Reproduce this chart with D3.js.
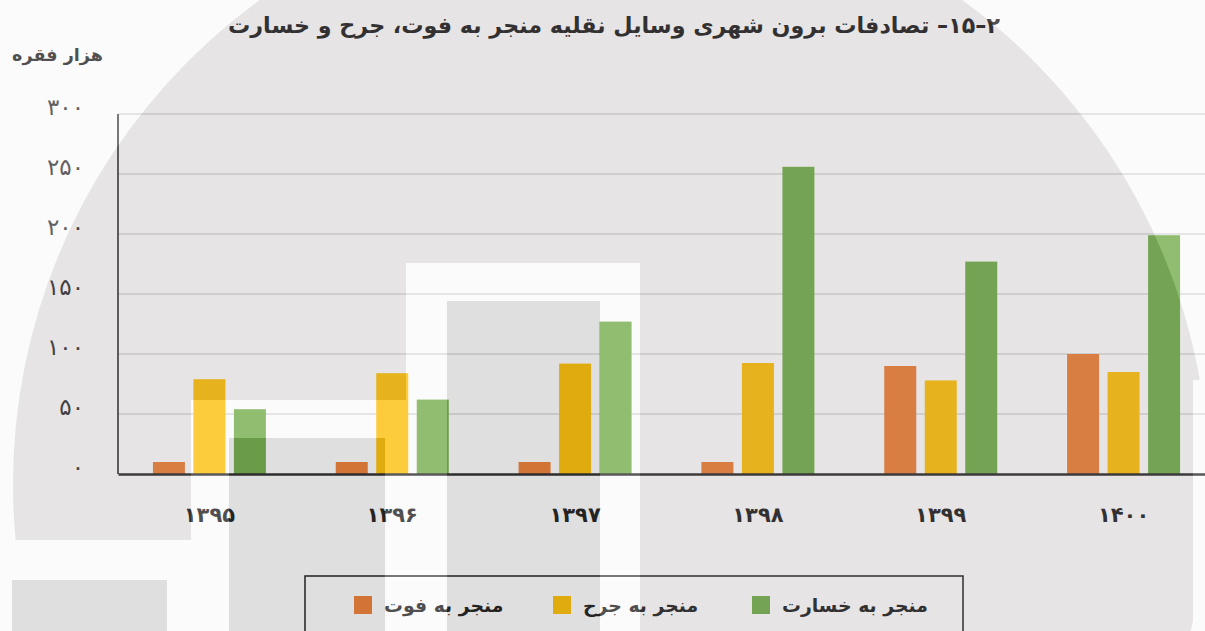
<!DOCTYPE html>
<html>
<head>
<meta charset="utf-8">
<script src="https://cdn.jsdelivr.net/npm/d3@7"></script>
<style>
  html, body { margin: 0; padding: 0; background: #ffffff; }
  svg { display: block; }
  text { font-family: "DejaVu Sans", "Noto Sans", sans-serif; }
</style>
</head>
<body>
<svg id="chart" width="1205" height="631"></svg>
<script>
// Years (Solar Hijri) shown on the category axis
const years = ["۱۳۹۵", "۱۳۹۶", "۱۳۹۷", "۱۳۹۸", "۱۳۹۹", "۱۴۰۰"];
// Series labels, in drawing order inside each group
const seriesNames = ["منجر به فوت", "منجر به جرح", "منجر به خسارت"];
// Values in thousand cases
const fatal = [10, 10, 10, 10, 90, 100];
const injury = [79, 84, 92, 92.5, 78, 85];
const damage = [54, 62, 127, 256, 177, 199];
// Value-axis ticks and their Persian labels
const yTicks = [0, 50, 100, 150, 200, 250, 300];
const yTickLabels = ["۰", "۵۰", "۱۰۰", "۱۵۰", "۲۰۰", "۲۵۰", "۳۰۰"];

const titleText = "۲–۱۵– تصادفات برون شهری وسایل نقلیه منجر به فوت، جرح و خسارت";
const unitText = "هزار فقره";

const seriesValues = [fatal, injury, damage];
const colors = ["#ED7D31", "#FFC000", "#70AD47"];

const W = 1205, H = 631;
const plot = { left: 118, right: 1215, top: 114, bottom: 474 };

const svg = d3.select("#chart");

const x = d3.scaleBand()
  .domain(years)
  .range([plot.left, plot.right])
  .paddingInner(0.382)
  .paddingOuter(0.191);

const xs = d3.scaleBand()
  .domain(seriesNames)
  .range([0, x.bandwidth()])
  .paddingInner(0.21)
  .paddingOuter(0);

const y = d3.scaleLinear().domain([0, 300]).range([plot.bottom, plot.top]);

// Horizontal gridlines
const grid = svg.append("g").attr("class", "grid");
grid.selectAll("line")
  .data(yTicks.filter(d => d > 0))
  .join("line")
  .attr("x1", plot.left).attr("x2", plot.right)
  .attr("y1", d => y(d)).attr("y2", d => y(d))
  .attr("stroke", "#D9D9D9").attr("stroke-width", 1.6);

// Bars
const table = years.map((yr, i) => ({ year: yr, values: seriesNames.map((s, k) => ({ series: s, k, value: seriesValues[k][i] })) }));
const groups = svg.append("g").attr("class", "bars")
  .selectAll("g")
  .data(table)
  .join("g")
  .attr("transform", d => `translate(${x(d.year)},0)`);
groups.selectAll("rect")
  .data(d => d.values)
  .join("rect")
  .attr("x", d => xs(d.series))
  .attr("width", xs.bandwidth())
  .attr("y", d => y(d.value))
  .attr("height", d => y(0) - y(d.value))
  .attr("fill", d => colors[d.k]);

// Y axis (labels on the left, line drawn separately)
const yAxis = d3.axisLeft(y).tickValues(yTicks)
  .tickFormat((d, i) => yTickLabels[i]).tickSize(0).tickPadding(0);
const yg = svg.append("g").attr("transform", `translate(84,0)`).call(yAxis);
yg.select(".domain").remove();
yg.selectAll("text")
  .attr("font-family", "DejaVu Sans")
  .attr("font-size", 23)
  .attr("fill", "#303030")
  .attr("dy", "0");

svg.append("line")
  .attr("x1", plot.left).attr("x2", plot.left)
  .attr("y1", plot.top).attr("y2", plot.bottom)
  .attr("stroke", "#262626").attr("stroke-width", 1.6);

// X axis
const xAxis = d3.axisBottom(x).tickSize(0).tickPadding(0);
const xg = svg.append("g").attr("transform", `translate(0,${plot.bottom})`).call(xAxis);
xg.select(".domain")
  .attr("stroke", "#262626").attr("stroke-width", 2.4);
xg.selectAll("text")
  .attr("font-family", "DejaVu Sans")
  .attr("font-weight", "bold")
  .attr("font-size", 21)
  .attr("fill", "#1a1a1a")
  .attr("y", 48)
  .attr("dy", "0");

// Fit a text element to a target width
function fitWidth(sel, target) {
  const w = sel.node().getComputedTextLength();
  const fs = parseFloat(sel.attr("font-size"));
  sel.attr("font-size", (fs * target / w).toFixed(2));
}

// Title
const title = svg.append("text")
  .attr("x", 614).attr("y", 33)
  .attr("text-anchor", "middle")
  .style("direction", "rtl")
  .style("unicode-bidi", "embed")
  .attr("font-weight", "bold")
  .attr("font-size", 22)
  .attr("fill", "#1a1a1a")
  .text(titleText);
fitWidth(title, 772);

// Unit label
const unit = svg.append("text")
  .attr("x", 103).attr("y", 61)
  .attr("text-anchor", "end")
  .attr("font-weight", "bold")
  .attr("font-size", 17)
  .attr("fill", "#1a1a1a")
  .text(unitText);
fitWidth(unit, 91);

// Legend
const legend = svg.append("g").attr("class", "legend");
legend.append("rect")
  .attr("x", 305).attr("y", 576).attr("width", 658).attr("height", 80)
  .attr("fill", "none").attr("stroke", "#262626").attr("stroke-width", 1.6);
const legendX = [354, 553, 752];
const legItems = legend.selectAll("g.item")
  .data(seriesNames)
  .join("g").attr("class", "item")
  .attr("transform", (d, i) => `translate(${legendX[i]},0)`);
legItems.append("rect")
  .attr("x", 0).attr("y", 596).attr("width", 18).attr("height", 18)
  .attr("fill", (d, i) => colors[i]);
legItems.append("text")
  .attr("x", 30).attr("y", 612)
  .attr("text-anchor", "start")
  .attr("font-weight", "bold")
  .attr("font-size", 19)
  .attr("fill", "#1a1a1a")
  .text(d => d);
{
  const longest = legItems.select("text").filter((d, i) => i === 2);
  fitWidth(longest, 146);
  legItems.select("text").attr("font-size", longest.attr("font-size"));
}

// Background seal watermark, laid over the chart
const seal = { cx: 611, cy: 484, r: 598 };
const frames = [
  { outer: [191, 400, 406, 700], inner: [229, 438, 385, 700] },
  { outer: [406, 263, 640, 700], inner: [447, 301, 600, 700] },
  { outer: [-40, 540, 191, 700], inner: [12, 580, 167, 700] }
];
const edgeStrip = [1193, 380, 1260, 700];
const rectAttrs = (sel, r) => sel.attr("x", r[0]).attr("y", r[1]).attr("width", r[2] - r[0]).attr("height", r[3] - r[1]);

const defs = svg.append("defs");
const mDisc = defs.append("mask").attr("id", "m-disc").attr("maskUnits", "userSpaceOnUse")
  .attr("x", 0).attr("y", 0).attr("width", W).attr("height", H);
mDisc.append("circle").attr("cx", seal.cx).attr("cy", seal.cy).attr("r", seal.r).attr("fill", "#fff");
frames.forEach(f => rectAttrs(mDisc.append("rect"), f.outer).attr("fill", "#000"));
rectAttrs(mDisc.append("rect"), edgeStrip).attr("fill", "#000");

const mLight = defs.append("mask").attr("id", "m-light").attr("maskUnits", "userSpaceOnUse")
  .attr("x", 0).attr("y", 0).attr("width", W).attr("height", H);
mLight.append("rect").attr("x", 0).attr("y", 0).attr("width", W).attr("height", H).attr("fill", "#fff");
mLight.append("circle").attr("cx", seal.cx).attr("cy", seal.cy).attr("r", seal.r).attr("fill", "#000");
frames.forEach(f => rectAttrs(mLight.append("rect"), f.outer).attr("fill", "#fff"));
rectAttrs(mLight.append("rect"), edgeStrip).attr("fill", "#fff");
frames.forEach(f => rectAttrs(mLight.append("rect"), f.inner).attr("fill", "#000"));

const wm = svg.append("g").attr("class", "watermark").attr("pointer-events", "none");
wm.append("rect").attr("x", 0).attr("y", 0).attr("width", W).attr("height", H)
  .attr("fill", "rgb(243,241,241)").attr("fill-opacity", 0.25).attr("mask", "url(#m-light)");
wm.append("rect").attr("x", 0).attr("y", 0).attr("width", W).attr("height", H)
  .attr("fill", "rgb(140,132,134)").attr("fill-opacity", 0.217).attr("mask", "url(#m-disc)");
frames.forEach(f => rectAttrs(wm.append("rect"), f.inner)
  .attr("fill", "rgb(83,80,80)").attr("fill-opacity", 0.18));
</script>
</body>
</html>
